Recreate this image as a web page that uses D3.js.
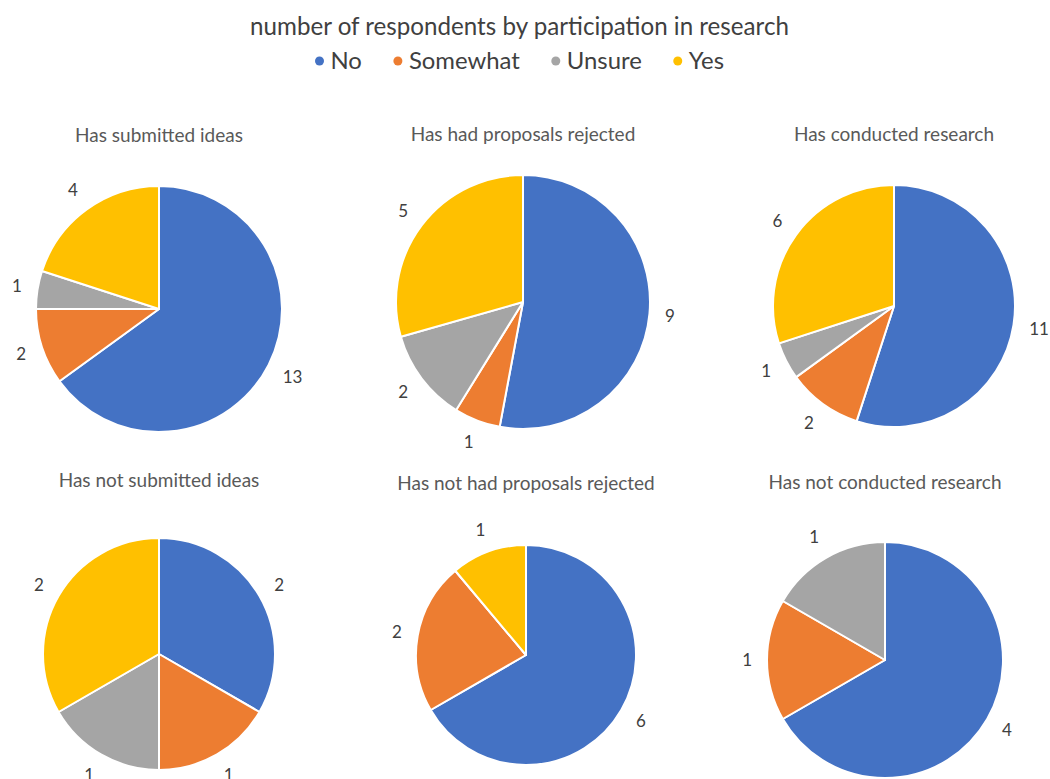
<!DOCTYPE html>
<html>
<head>
<meta charset="utf-8">
<script src="https://cdn.jsdelivr.net/npm/d3@7"></script>
<style>
  html, body { margin: 0; padding: 0; background: #fff; }
  svg { display: block; }
</style>
</head>
<body>
<svg id="chart" width="1050" height="779"></svg>
<script>
// ---- data ----
const chartTitle = "number of respondents by participation in research";
const categories = ["No", "Somewhat", "Unsure", "Yes"];
const pieTitles = [
  "Has submitted ideas",
  "Has had proposals rejected",
  "Has conducted research",
  "Has not submitted ideas",
  "Has not had proposals rejected",
  "Has not conducted research"
];
const hasSubmittedIdeas        = [13, 2, 1, 4];
const hasHadProposalsRejected  = [9, 1, 2, 5];
const hasConductedResearch     = [11, 2, 1, 6];
const hasNotSubmittedIdeas     = [2, 1, 1, 2];
const hasNotHadProposalsRej    = [6, 2, 0, 1];
const hasNotConductedResearch  = [4, 1, 1, 0];
const seriesValues = [hasSubmittedIdeas, hasHadProposalsRejected, hasConductedResearch,
                      hasNotSubmittedIdeas, hasNotHadProposalsRej, hasNotConductedResearch];

// ---- layout / style ----
const colors = ["#4472C4", "#ED7D31", "#A5A5A5", "#FFC000"];
const pieLayout = [
  { cx: 159, cy: 309, r: 123, ty: 135 },
  { cx: 523, cy: 302, r: 127, ty: 134 },
  { cx: 894, cy: 306, r: 121, ty: 134 },
  { cx: 159, cy: 654, r: 116, ty: 480 },
  { cx: 526, cy: 655, r: 110, ty: 483 },
  { cx: 885, cy: 660, r: 118, ty: 482 }
];
const FONT = "Lato, 'Open Sans', sans-serif";

const svg = d3.select("#chart");
const color = d3.scaleOrdinal().domain(categories).range(colors);

function fitSize(sel, target, base) {
  sel.attr("font-size", base);
  const w = sel.node().getComputedTextLength();
  sel.attr("font-size", base * target / w);
}

// Title
const title = svg.append("text")
  .attr("x", 519.5).attr("y", 27)
  .attr("text-anchor", "middle").attr("dy", "0.35em")
  .attr("font-family", FONT).attr("fill", "#404040")
  .text(chartTitle);
fitSize(title, 539, 20);

// Legend
const legend = svg.append("g").attr("transform", "translate(0,61)");
const probe = legend.append("text").attr("font-family", FONT).text("Somewhat");
fitSize(probe, 111, 19);
const legendFont = +probe.attr("font-size");
probe.remove();
let lx = 0;
categories.forEach((c, i) => {
  const g = legend.append("g");
  g.append("circle").attr("cx", lx).attr("cy", 0).attr("r", 4.5).attr("fill", color(c));
  const t = g.append("text").attr("x", lx + 11).attr("dy", "0.35em")
    .attr("font-family", FONT).attr("font-size", legendFont).attr("fill", "#404040").text(c);
  const w = t.node().getComputedTextLength();
  lx = lx + 11 + w + 36;
});
const legendWidth = lx - 36 + 4.5;
legend.attr("transform", `translate(${519.5 - legendWidth / 2 + 4.5},61)`);

// Pies
const pie = d3.pie().sort(null).value(d => d.value);
seriesValues.forEach((vals, k) => {
  const L = pieLayout[k];
  const g = svg.append("g").attr("transform", `translate(${L.cx},${L.cy})`);
  const data = categories.map((c, i) => ({ cat: c, value: vals[i] }));
  const arcs = pie(data);
  const arc = d3.arc().innerRadius(0).outerRadius(L.r);
  g.selectAll("path").data(arcs).join("path")
    .attr("d", arc)
    .attr("fill", d => color(d.data.cat))
    .attr("stroke", "#fff").attr("stroke-width", 2).attr("stroke-linejoin", "round");

  // data labels
  arcs.filter(d => d.data.value > 0).forEach(d => {
    const a = (d.startAngle + d.endAngle) / 2;
    const s = Math.sin(a), c = Math.cos(a);
    const t = g.append("text")
      .attr("text-anchor", "middle").attr("dy", "0.35em")
      .attr("font-family", FONT).attr("font-size", 17).attr("fill", "#404040")
      .text(d.data.value);
    const w = t.node().getComputedTextLength();
    const ext = Math.abs(s) * w / 2 + Math.abs(c) * 7;
    const dist = L.r + 15 + ext;
    t.attr("x", dist * s).attr("y", -dist * c);
  });

  // pie title
  svg.append("text")
    .attr("x", L.cx).attr("y", L.ty).attr("dy", "0.35em")
    .attr("text-anchor", "middle")
    .attr("font-family", FONT).attr("font-size", 19).attr("fill", "#595959")
    .text(pieTitles[k]);
});
</script>
</body>
</html>
